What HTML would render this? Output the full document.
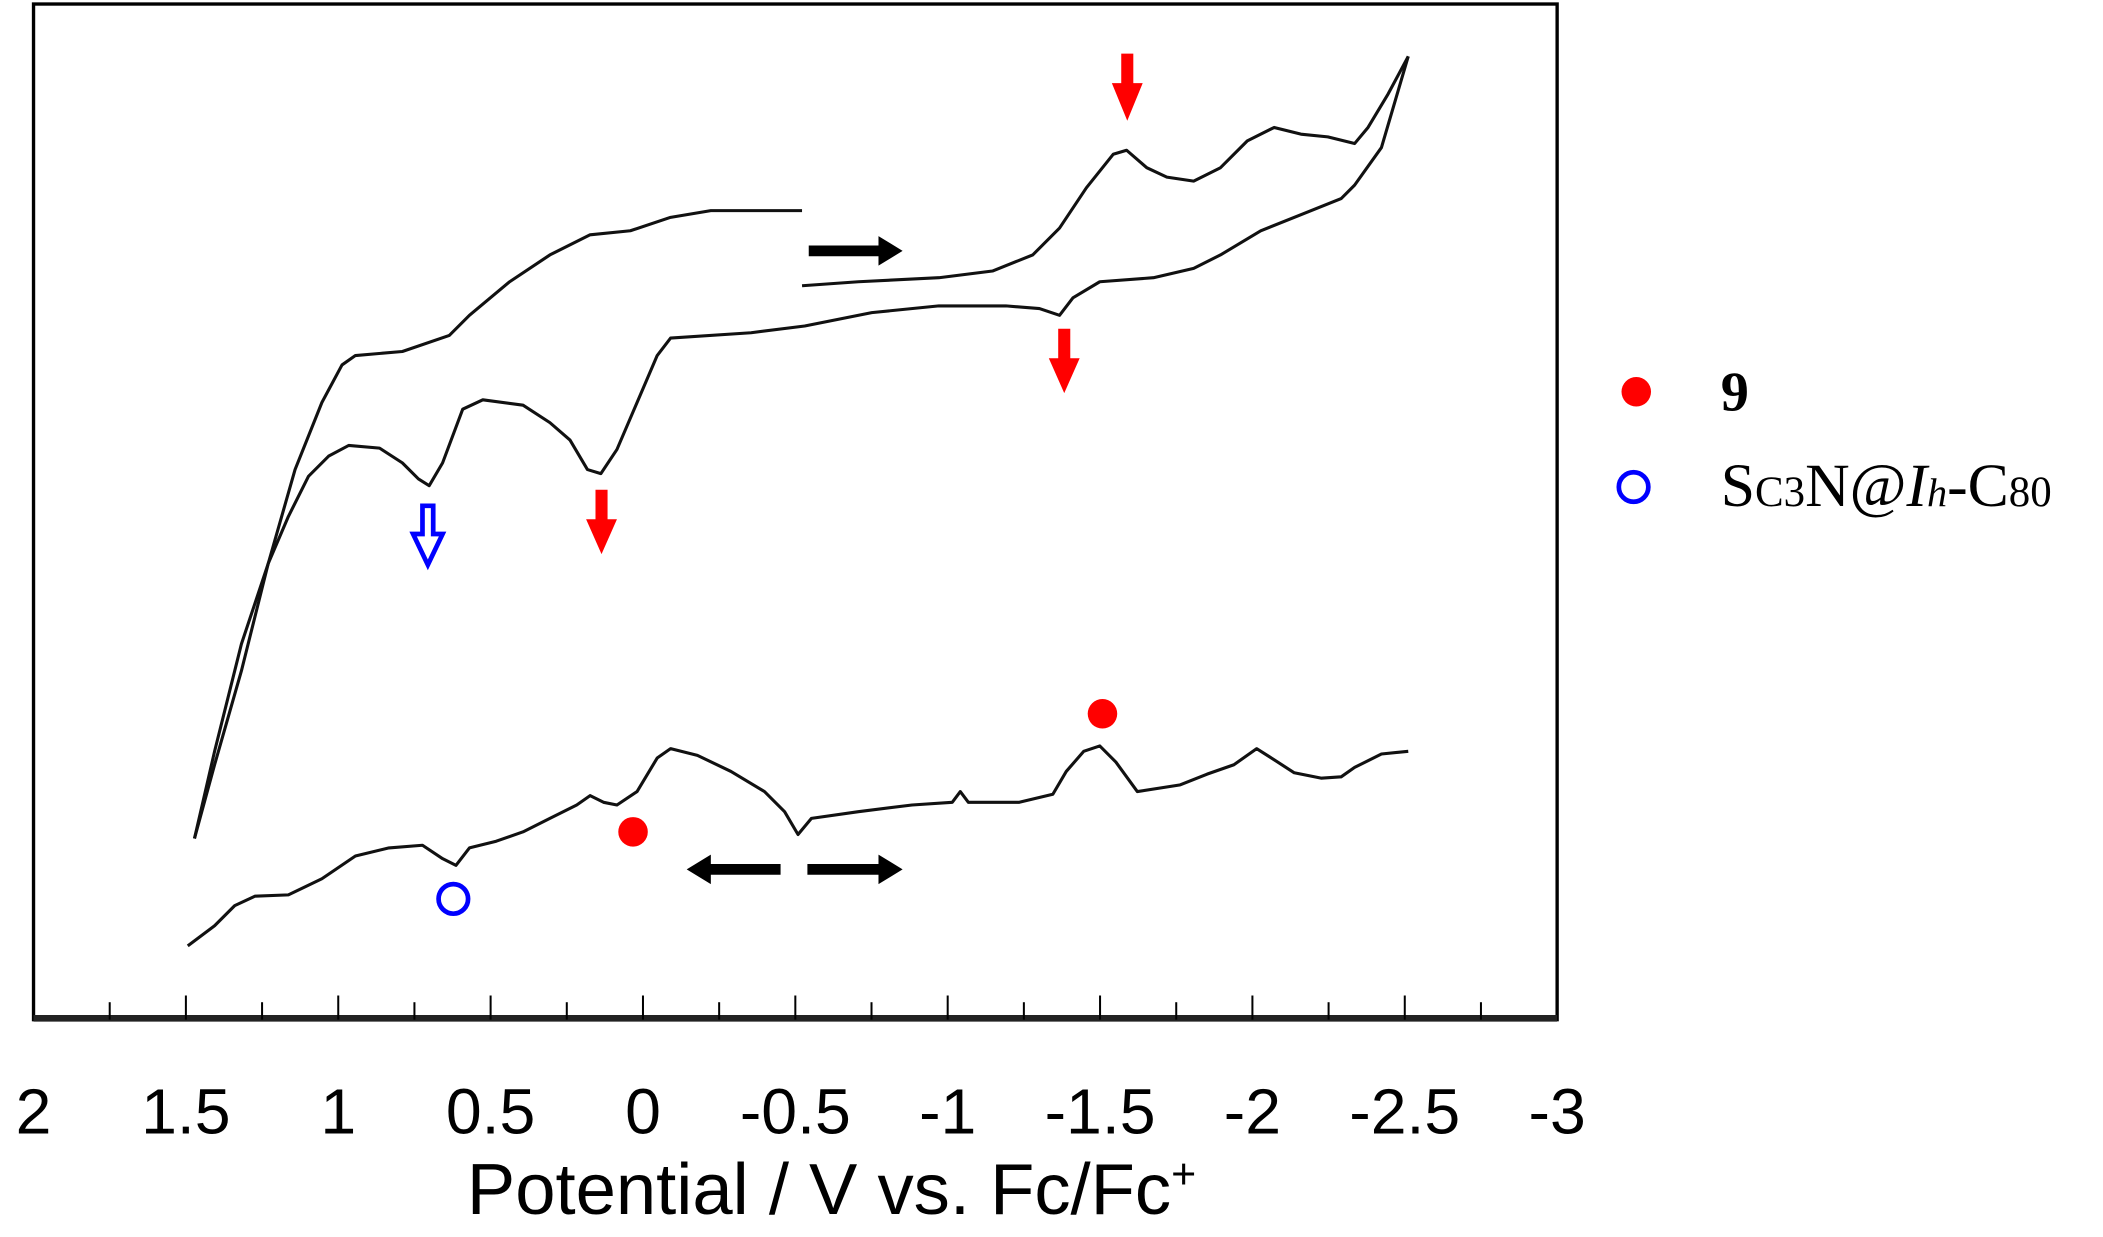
<!DOCTYPE html>
<html><head><meta charset="utf-8"><style>
html,body{margin:0;padding:0;background:#fff;}
svg{display:block;}
</style></head><body>
<svg width="2103" height="1237" viewBox="0 0 1568 922" preserveAspectRatio="none" xmlns="http://www.w3.org/2000/svg">
<rect x="0" y="0" width="1568" height="922" fill="#fff"/>
<rect x="25" y="3" width="1136" height="757" fill="none" stroke="#000" stroke-width="2.5"/>
<line x1="25" y1="759" x2="1161" y2="759" stroke="#222" stroke-width="5"/>
<g stroke="#000" stroke-width="1.5">
<line x1="81.8" y1="760" x2="81.8" y2="747"/><line x1="138.6" y1="760" x2="138.6" y2="742"/>
<line x1="195.4" y1="760" x2="195.4" y2="747"/><line x1="252.2" y1="760" x2="252.2" y2="742"/>
<line x1="309" y1="760" x2="309" y2="747"/><line x1="365.8" y1="760" x2="365.8" y2="742"/>
<line x1="422.6" y1="760" x2="422.6" y2="747"/><line x1="479.4" y1="760" x2="479.4" y2="742"/>
<line x1="536.2" y1="760" x2="536.2" y2="747"/><line x1="593" y1="760" x2="593" y2="742"/>
<line x1="649.8" y1="760" x2="649.8" y2="747"/><line x1="706.6" y1="760" x2="706.6" y2="742"/>
<line x1="763.4" y1="760" x2="763.4" y2="747"/><line x1="820.2" y1="760" x2="820.2" y2="742"/>
<line x1="877" y1="760" x2="877" y2="747"/><line x1="933.8" y1="760" x2="933.8" y2="742"/>
<line x1="990.6" y1="760" x2="990.6" y2="747"/><line x1="1047.4" y1="760" x2="1047.4" y2="742"/>
<line x1="1104.2" y1="760" x2="1104.2" y2="747"/>
</g>
<g font-family="Liberation Sans, sans-serif" font-size="48" text-anchor="middle" fill="#000">
<text x="25" y="845">2</text><text x="138.6" y="845">1.5</text><text x="252.2" y="845">1</text>
<text x="365.8" y="845">0.5</text><text x="479.4" y="845">0</text><text x="593" y="845">-0.5</text>
<text x="706.6" y="845">-1</text><text x="820.2" y="845">-1.5</text><text x="933.8" y="845">-2</text>
<text x="1047.4" y="845">-2.5</text><text x="1161" y="845">-3</text>
<text x="620" y="905" font-size="54">Potential / V vs. Fc/Fc<tspan font-size="32" dy="-19">+</tspan></text>
</g>
<g fill="none" stroke="#111" stroke-width="2.3" stroke-linejoin="round">
<polyline points="598,157 560,157 530,157 500,162 470,172 440,175 410,190 380,210 350,235 335,250 300,262 265,265 255,272 240,300 220,350 200,420 180,500 160,570 145,625"/>
<polyline points="145,625 160,560 180,480 200,420 215,385 230,355 245,340 260,332 283,334 300,345 312,357 320,362 330,345 345,305 360,298 390,302 410,315 425,328 438,350 448,353 460,335 475,300 490,265 500,252 560,248 600,243 650,233 700,228 750,228 775,230 790,235 800,222 820,210 860,207 890,200 910,190 940,172 970,160 1000,148 1010,138 1030,110 1050,42"/>
<polyline points="598,213 640,210 700,207 740,202 770,190 790,170 810,140 830,115 840,112 855,125 870,132 890,135 910,125 930,105 950,95 970,100 990,102 1010,107 1020,95 1035,70 1050,42"/>
<polyline points="140,705 160,690 175,675 190,668 215,667 240,655 265,638 290,632 315,630 330,640 340,645 350,632 370,627 390,620 410,610 430,600 440,593 450,598 460,600 475,590 490,565 500,558 520,563 545,575 570,590 585,605 595,622 605,610 640,605 680,600 710,598 716,590 722,598 760,598 785,592 795,575 808,560 820,556 832,568 848,590 880,585 900,577 920,570 937,558 948,565 965,576 985,580 1000,579 1010,572 1030,562 1050,560"/>
</g>
<g fill="#f00">
<polygon points="836,40 845,40 845,62 852,62 840.5,90 829,62 836,62"/>
<polygon points="789,245 798,245 798,267 805,267 793.5,293 782,267 789,267"/>
<polygon points="444,365 453,365 453,387 460,387 448.5,413 437,387 444,387"/>
<circle cx="472" cy="620" r="11"/><circle cx="822" cy="532" r="11"/>
<circle cx="1220" cy="292" r="11"/>
</g>
<polygon points="315,377 323,377 323,398 330,398 319,421 308,398 315,398" fill="#fff" stroke="#00f" stroke-width="3.5"/>
<circle cx="338" cy="670" r="11" fill="none" stroke="#00f" stroke-width="3.5"/>
<circle cx="1218" cy="363" r="11" fill="none" stroke="#00f" stroke-width="3.5"/>
<g fill="#000">
<polygon points="603,183 655,183 655,176 673,187 655,198 655,191 603,191"/>
<polygon points="602,644 655,644 655,637 673,648 655,659 655,652 602,652"/>
<polygon points="582,644 530,644 530,637 512,648 530,659 530,652 582,652"/>
</g>
<g font-family="Liberation Serif, serif" fill="#000">
<text x="1283" y="306" font-size="42" font-weight="bold">9</text>
<text x="1283" y="377" font-size="46">S<tspan font-size="32">C3</tspan>N@<tspan font-style="italic">I</tspan><tspan font-style="italic" font-size="30">h</tspan>-C<tspan font-size="32">80</tspan></text>
</g>
</svg>
</body></html>
